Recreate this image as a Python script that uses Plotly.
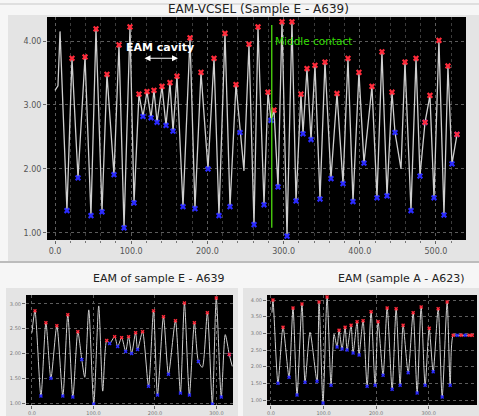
import plotly.graph_objects as go

# main trace: EAM-VCSEL (Sample E - A639)
main_x = [0, 3.9, 6.6, 15.7, 22.3, 30.2, 39.4, 47.2, 53.8, 61.7,
          68.2, 77.4, 84.0, 90.6, 98.4, 103.7, 110.2, 115.5, 120.7, 126.0,
          129.9, 133.9, 140.4, 145.7, 150.9, 154.9, 160.1, 168.0, 177.2, 183.7,
          191.6, 200.8, 208.7, 215.2, 223.1, 229.7, 237.5, 242.8, 248.0, 254.6,
          261.2, 266.4, 274.3, 279.5, 283.5, 287.4, 292.7, 297.9, 304.5, 311.0,
          316.3, 322.8, 325.5, 330.7, 336.0, 341.2, 347.8, 354.3, 362.2, 370.1,
          378.0, 384.5, 391.1, 398.9, 405.5, 416.0, 422.6, 429.1, 435.7, 442.3,
          446.2, 454.1, 459.3, 467.2, 473.8, 479.0, 485.6, 492.1, 497.4, 503.9,
          510.5, 515.7, 521.0, 527.6]
main_y = [3.23, 3.30, 4.15, 1.35, 3.73, 1.86, 3.75, 1.27, 4.19, 1.33,
          3.48, 1.91, 3.94, 1.08, 4.22, 1.47, 3.17, 2.82, 3.21, 2.80,
          3.23, 2.73, 3.29, 2.68, 3.35, 2.59, 3.45, 1.41, 4.05, 1.38,
          3.51, 2.00, 3.73, 1.27, 4.12, 1.41, 3.32, 2.57, 1.97, 3.95,
          1.13, 4.22, 1.44, 3.20, 2.76, 2.92, 1.72, 4.30, 0.95, 4.30,
          1.50, 3.17, 2.55, 3.57, 2.46, 3.62, 1.53, 3.67, 1.85, 3.18,
          1.77, 3.73, 1.49, 3.51, 2.09, 3.29, 1.55, 3.83, 1.58, 3.20,
          2.57, 2.00, 3.67, 1.35, 3.73, 1.89, 2.73, 3.15, 1.55, 4.01,
          1.28, 3.61, 2.08, 2.54]
# P = peak (red), V = valley (blue), B = both, N = no marker
main_kind = "NNNVPVPVPVPVPVPVPVPVPVPVPVPVPVPVPVPVPVNPVPVPVPVPVPVPVPVPVPVPVPVPVPVPVPVNPVPVBPVPVPVB"
middle_contact_x = 284.5

# bottom left: EAM of sample E - A639
bl_x = [0, 4.9, 14.6, 22.7, 30.8, 40.5, 50.2, 58.3, 66.5, 74.6,
        81.0, 85.9, 92.4, 100.5, 108.6, 115.1, 121.6, 126.4, 134.5, 139.4,
        145.9, 152.4, 157.2, 162.1, 168.6, 171.8, 179.9, 189.6, 197.7, 204.2,
        213.9, 222.0, 233.4, 241.5, 248.0, 256.1, 264.2, 270.7, 277.1, 285.3,
        293.4, 299.8, 307.9, 314.4, 320.9, 325.8]
bl_y = [2.42, 2.86, 1.14, 2.62, 1.50, 2.56, 1.14, 2.78, 1.12, 2.44,
        1.88, 1.52, 2.88, 0.98, 2.96, 1.24, 2.26, 2.20, 2.34, 2.14,
        2.32, 2.04, 2.34, 2.00, 2.42, 2.08, 2.44, 1.34, 2.86, 1.16,
        2.74, 1.58, 2.66, 1.20, 3.02, 1.16, 2.62, 1.84, 1.72, 2.82,
        0.98, 3.12, 1.12, 2.38, 1.98, 1.74]
bl_kind = "NPVPVPVPVPVNNVNNPVPVPVPVPVPVPVPVPVPVPVNPVPVNBN"

# bottom right: EAM (sample A - A623)
br_x = [1.9, 3.8, 13.3, 22.9, 34.3, 41.9, 49.5, 59.0, 64.8, 74.3,
        87.6, 91.4, 99.0, 106.7, 114.3, 120.0, 125.7, 129.5, 135.2, 141.0,
        144.8, 152.4, 156.2, 163.8, 167.6, 175.2, 182.9, 190.5, 198.1, 203.8,
        213.3, 221.0, 230.5, 238.1, 245.7, 251.4, 261.0, 270.5, 278.1, 285.7,
        293.3, 301.0, 308.6, 318.1, 325.7, 335.2, 341.0, 346.7, 354.3, 361.9,
        369.5, 377.1, 382.9]
br_y = [3.62, 4.00, 1.50, 3.18, 1.68, 3.76, 1.15, 3.88, 1.53, 3.03,
        1.56, 3.94, 0.91, 4.09, 1.44, 2.97, 2.59, 3.09, 2.53, 3.18,
        2.50, 3.24, 2.41, 3.35, 2.35, 3.38, 1.41, 3.65, 1.44, 3.35,
        1.74, 3.76, 1.32, 3.74, 1.44, 3.24, 1.82, 3.62, 1.21, 3.79,
        1.44, 3.15, 1.85, 3.74, 1.09, 3.94, 1.44, 2.94, 2.94, 2.94,
        2.94, 2.94, 2.94]
br_kind = "NPVPVPVPVNVPVPVNVPVPVPVPVPVPVPVPVPVPVPVPVPVPVPVPVPVPPPPPP"

main_ticks_x = [0, 100, 200, 300, 400, 500]
main_ticks_y = [1, 2, 3, 4]
small_ticks_x = [0, 100, 200, 300]

W, H = 479, 416
def px(x):
    return x / W
def py(y):
    return 1 - y / H

fig = go.Figure()

def add_series(xs, ys, kinds, xa, ya, lw, ms, shape):
    fig.add_trace(go.Scatter(x=xs, y=ys, mode="lines", xaxis=xa, yaxis=ya,
                             line=dict(color="#cfcfcf", width=lw, shape=shape, smoothing=0.7),
                             hoverinfo="skip"))
    pkx, pky = [], []
    vx, vy = [], []
    for x, y, k in zip(xs, ys, kinds):
        if k in "PB":
            pkx.append(x); pky.append(y)
        if k in "VB":
            vx.append(x); vy.append(y)
    fig.add_trace(go.Scatter(x=vx, y=vy, mode="markers", xaxis=xa, yaxis=ya,
                             marker=dict(symbol="x", size=ms, color="#2b2bff",
                                         line=dict(width=0))))
    fig.add_trace(go.Scatter(x=pkx, y=pky, mode="markers", xaxis=xa, yaxis=ya,
                             marker=dict(symbol="x", size=ms, color="#ff2b3b",
                                         line=dict(width=0))))

add_series(main_x, main_y, main_kind, "x", "y", 1.3, 5.5, "linear")
add_series(bl_x, bl_y, bl_kind, "x2", "y2", 1.0, 3.5, "spline")
add_series(br_x, br_y, br_kind, "x3", "y3", 1.0, 3.5, "spline")

# middle contact line
fig.add_shape(type="line", xref="x", yref="y", x0=middle_contact_x, x1=middle_contact_x,
              y0=1.08, y1=4.25, line=dict(color="#55ee11", width=1.2))

# light strips outside the grey panels
light = [
    dict(x0=0, x1=480, y0=0, y1=15),
    dict(x0=0, x1=8, y0=0, y1=262),
    dict(x0=0, x1=480, y0=262, y1=288),
    dict(x0=0, x1=6, y0=262, y1=417),
    dict(x0=238, x1=243, y0=262, y1=417),
]
for s in light:
    fig.add_shape(type="rect", xref="paper", yref="paper", layer="below",
                  x0=px(s["x0"]), x1=px(s["x1"]), y0=py(s["y1"]), y1=py(s["y0"]),
                  fillcolor="#f6f6f6", line=dict(width=0))
fig.add_shape(type="line", xref="paper", yref="paper", x0=0, x1=1, y0=py(262), y1=py(262),
              line=dict(color="#bcbcbc", width=2))
fig.add_shape(type="line", xref="paper", yref="paper", x0=0, x1=1, y0=py(4), y1=py(4),
              line=dict(color="#c8c8c8", width=1))

grid = dict(showgrid=True, gridcolor="#5c5c5c", griddash="dot", gridwidth=1,
            zeroline=False, showline=False, ticks="outside", ticklen=3,
            tickcolor="#666", fixedrange=True)

fig.update_layout(
    width=W, height=H,
    margin=dict(l=0, r=0, t=0, b=0),
    paper_bgcolor="#e4e4e4",
    plot_bgcolor="#000000",
    showlegend=False,
    font=dict(family="DejaVu Sans", color="#333"),
    xaxis=dict(domain=[px(47), px(466)], range=[-10.5, 539.4], anchor="y",
               tickvals=main_ticks_x, ticktext=["%.1f" % v for v in main_ticks_x],
               tickfont=dict(size=8, color="#555"),
               minor=dict(dtick=20, tick0=0, showgrid=True, gridcolor="#3c3c3c",
                          griddash="dot", ticks="outside", ticklen=2, tickcolor="#777"),
               **grid),
    yaxis=dict(domain=[py(240), py(17)], range=[0.89, 4.375], anchor="x",
               tickvals=main_ticks_y, ticktext=["%.2f" % v for v in main_ticks_y],
               tickfont=dict(size=8, color="#555"),
               **grid),
    xaxis2=dict(domain=[px(26), px(233)], range=[-9.7, 327], anchor="y2",
                tickvals=small_ticks_x, ticktext=["%.1f" % v for v in small_ticks_x],
                tickfont=dict(size=5, color="#777"), **grid),
    yaxis2=dict(domain=[py(405), py(295)], range=[0.96, 3.18], anchor="x2",
                tickvals=[1, 1.5, 2, 2.5, 3], ticktext=["1.00", "1.50", "2.00", "2.50", "3.00"],
                tickfont=dict(size=5, color="#777"), **grid),
    xaxis3=dict(domain=[px(267), px(477)], range=[-7.6, 392], anchor="y3",
                tickvals=small_ticks_x, ticktext=["%.1f" % v for v in small_ticks_x],
                tickfont=dict(size=5, color="#777"), **grid),
    yaxis3=dict(domain=[py(405), py(295)], range=[0.85, 4.15], anchor="x3",
                tickvals=[1, 1.5, 2, 2.5, 3, 3.5, 4],
                ticktext=["1.00", "1.50", "2.00", "2.50", "3.00", "3.50", "4.00"],
                tickfont=dict(size=5, color="#777"), **grid),
)

ann = [
    dict(text="EAM-VCSEL (Sample E - A639)", x=px(258), y=py(9), xref="paper", yref="paper",
         xanchor="center", yanchor="middle", showarrow=False, font=dict(size=12, color="#222")),
    dict(text="EAM of sample E - A639", x=px(158), y=py(278), xref="paper", yref="paper",
         xanchor="center", yanchor="middle", showarrow=False, font=dict(size=11, color="#222")),
    dict(text="EAM (sample A - A623)", x=px(401), y=py(278), xref="paper", yref="paper",
         xanchor="center", yanchor="middle", showarrow=False, font=dict(size=11, color="#222")),
    dict(text="<b>EAM cavity</b>", x=137.8, y=3.90, xref="x", yref="y",
         showarrow=False, font=dict(size=11, color="white")),
    dict(text="", x=161.4, y=3.73, ax=115.5, ay=3.73, xref="x", yref="y",
         axref="x", ayref="y", showarrow=True, arrowhead=2, arrowside="end+start",
         arrowsize=1, arrowwidth=1.2, arrowcolor="white"),
    dict(text="Middle contact", x=middle_contact_x + 1, y=4.0, xref="x", yref="y",
         xanchor="left", showarrow=False, font=dict(size=10.5, color="#33dd00")),
]
fig.update_layout(annotations=ann)

fig.write_html("out.html", config={"displayModeBar": False},
               post_script="document.body.style.margin='0';")
